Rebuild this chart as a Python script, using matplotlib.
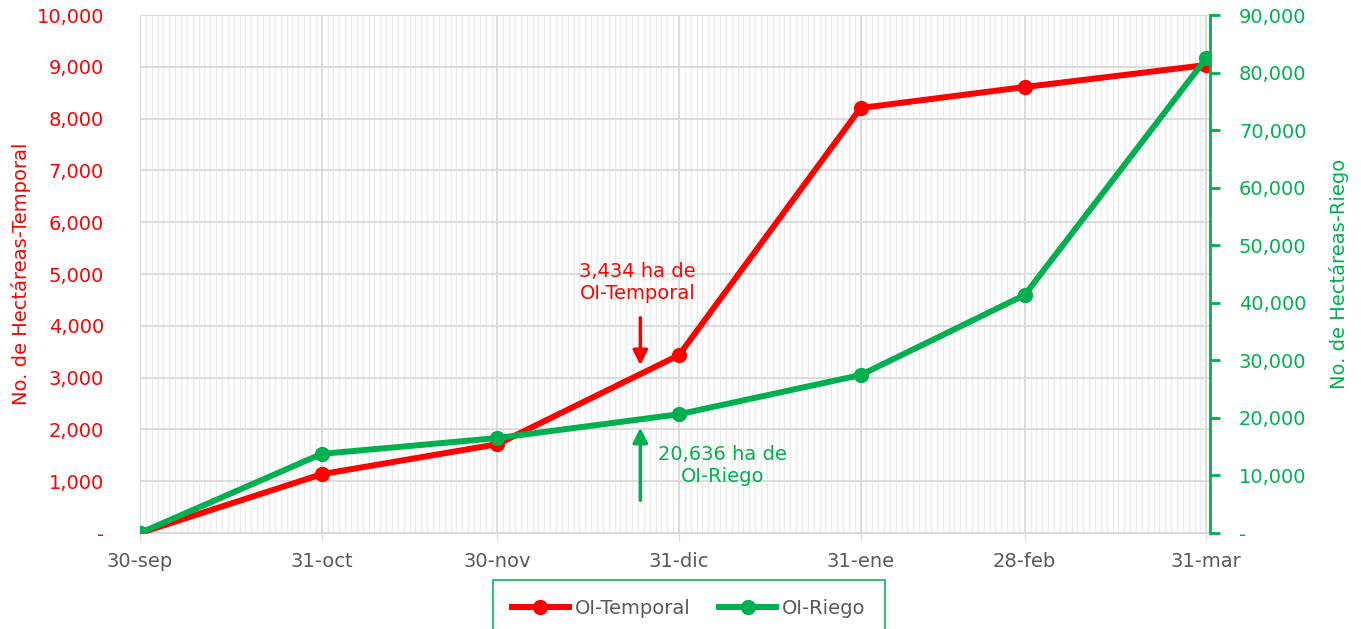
import matplotlib
matplotlib.use("Agg")
import matplotlib.pyplot as plt
import matplotlib.dates as mdates
import matplotlib.ticker as mticker
from matplotlib.lines import Line2D
import numpy as np

plt.rcParams['font.family'] = ['DejaVu Sans']

fechas = np.array(['2022-09-30', '2022-10-31', '2022-11-30', '2022-12-31',
                   '2023-01-31', '2023-02-28', '2023-03-31'], dtype='datetime64[D]')
etiquetas = ['30-sep', '31-oct', '30-nov', '31-dic', '31-ene', '28-feb', '31-mar']
temporal = [0, 1135, 1715, 3434, 8205, 8610, 9035]
riego = [0, 13750, 16500, 20636, 27450, 41350, 82500]

ROJO = '#FF0000'
VERDE = '#00B050'
GRIS = '#595959'

x = mdates.date2num(fechas)

fig = plt.figure(figsize=(13.61, 6.29), dpi=100)
ax = fig.add_axes([0.1029, 0.1526, 0.786, 0.8235])
ax2 = ax.twinx()

ax.plot(x, temporal, color=ROJO, lw=4.3, marker='o', ms=10, zorder=3)
ax2.plot(x, riego, color=VERDE, lw=4.3, marker='o', ms=10, zorder=3)

ax.set_xlim(x[0], x[-1] + 0.6)
ax.set_ylim(0, 10000)
ax2.set_ylim(0, 90000)

# gridlines: daily minor, monthly major
ax.set_xticks(x)
ax.set_xticklabels(etiquetas)
ax.xaxis.set_minor_locator(mdates.DayLocator())
ax.grid(which='minor', axis='x', color='#ebebeb', lw=1.0)
ax.grid(which='major', axis='x', color='#d9d9d9', lw=1.3)
ax.grid(which='major', axis='y', color='#d9d9d9', lw=1.3)
ax.set_axisbelow(True)

fmt = lambda v, p: '-' if v == 0 else f'{v:,.0f}'
ax.yaxis.set_major_locator(mticker.MultipleLocator(1000))
ax.yaxis.set_major_formatter(mticker.FuncFormatter(fmt))
ax2.yaxis.set_major_locator(mticker.MultipleLocator(10000))
ax2.yaxis.set_major_formatter(mticker.FuncFormatter(fmt))

ax.tick_params(axis='y', colors=ROJO, labelsize=14, length=0, pad=26)
ax.tick_params(axis='x', which='major', colors=GRIS, labelsize=14, length=6,
               color='#d9d9d9', pad=8)
ax.tick_params(axis='x', which='minor', length=0)
ax2.tick_params(axis='y', colors=VERDE, labelsize=14, length=7, width=2, pad=14)

for s in ['top', 'left', 'right']:
    ax.spines[s].set_visible(False)
ax.spines['bottom'].set_color('#d9d9d9')
ax.spines['bottom'].set_linewidth(1.3)
for s in ['top', 'left', 'bottom']:
    ax2.spines[s].set_visible(False)
ax2.spines['right'].set_color(VERDE)
ax2.spines['right'].set_linewidth(2)

ax.set_ylabel('No. de Hectáreas-Temporal', color=ROJO, fontsize=14, labelpad=4)
ax2.set_ylabel('No. de Hectáreas-Riego', color=VERDE, fontsize=14, labelpad=16)

# annotations
xa = x[0] + 85.4
ax.annotate('', xy=(xa, 3185), xytext=(xa, 4210),
            arrowprops=dict(arrowstyle='-|>', color=ROJO, lw=2.5, mutation_scale=22))
ax.text(x[0] + 84.9, 4830, '3,434 ha de\nOI-Temporal', color=ROJO, fontsize=14,
        ha='center', va='center', linespacing=1.2)
ax2.annotate('', xy=(xa, 18800), xytext=(xa, 5200),
             arrowprops=dict(arrowstyle='-|>', color=VERDE, lw=2.5, mutation_scale=22))
ax2.text(x[0] + 99.4, 11800, '20,636 ha de\nOI-Riego', color=VERDE, fontsize=14,
         ha='center', va='center', linespacing=1.2)

handles = [Line2D([], [], color=ROJO, lw=4.3, marker='o', ms=10),
           Line2D([], [], color=VERDE, lw=4.3, marker='o', ms=10)]
leg = fig.legend(handles, ['OI-Temporal', 'OI-Riego'], loc='upper center',
                 bbox_to_anchor=(0.506, 0.094), ncol=2, fontsize=14, frameon=True,
                 fancybox=False, handlelength=2.9, handletextpad=0.3,
                 columnspacing=1.5, borderpad=1.0, labelcolor=GRIS)
leg.get_frame().set_edgecolor(VERDE)
leg.get_frame().set_linewidth(1.5)

fig.savefig('out.png', dpi=100)
